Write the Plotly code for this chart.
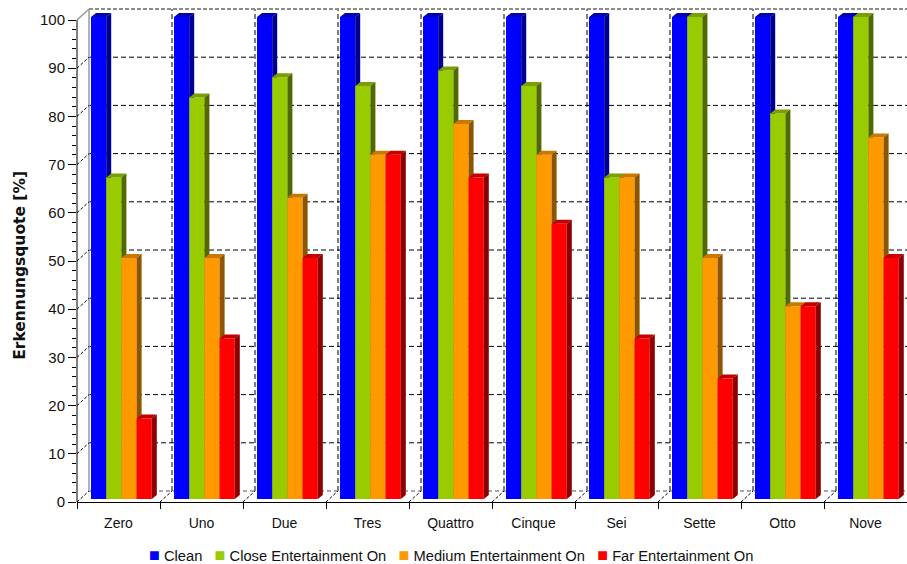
import plotly.graph_objects as go

# ---- data -------------------------------------------------------------
categories = ["Zero", "Uno", "Due", "Tres", "Quattro", "Cinque", "Sei", "Sette", "Otto", "Nove"]
series_names = ["Clean", "Close Entertainment On", "Medium Entertainment On", "Far Entertainment On"]
clean = [100, 100, 100, 100, 100, 100, 100, 100, 100, 100]
close_ent = [66.7, 83.3, 87.5, 85.7, 88.9, 85.7, 66.7, 100, 80, 100]
medium_ent = [50, 50, 62.5, 71.4, 77.8, 71.4, 66.7, 50, 40, 75]
far_ent = [16.7, 33.3, 50, 71.4, 66.7, 57.1, 33.3, 25, 40, 50]
y_ticks = list(range(0, 101, 10))

series_values = [clean, close_ent, medium_ent, far_ent]
# front, top cap, side face colours per series
front_cols = ["#0000FF", "#99CC00", "#FF9900", "#FF0000"]
cap_cols = ["#0000B0", "#7A9F00", "#C97800", "#C40000"]
side_cols = ["#000090", "#506A00", "#8E5500", "#8B0000"]

# ---- geometry (category units on x, value units on y) -----------------
W, H = 907, 564
ML, MR, MT, MB = 77, 0, 8, 62
YMAX = 102.49
PW, PH = W - ML - MR, H - MT - MB
px_x = PW / len(categories)                   # pixels per category
px_y = PH / YMAX                              # pixels per value unit

wall_dx, wall_dy = 12 / px_x, 11 / px_y       # back wall offset
bar_dy = 3 / px_y                             # bars sit slightly behind the front
bar_left = 14 / px_x
bar_w = 15.2 / px_x
depth_dx, depth_dy = 5 / px_x, 4 / px_y       # visible bar depth

fig = go.Figure()

n_series = len(series_values)
for j, vals in enumerate(series_values):
    xa = "x" if j == 0 else f"x{j + 1}"
    ya = "y" if j == 0 else f"y{j + 1}"
    xl = [i + bar_left + j * bar_w for i in range(len(categories))]
    fig.add_trace(go.Bar(
        x=[v + bar_w / 2 for v in xl], y=vals, base=bar_dy, width=bar_w,
        marker=dict(color=front_cols[j], line=dict(width=0)),
        name=series_names[j], showlegend=False, xaxis=xa, yaxis=ya,
        hoverinfo="skip"))
    cx, cy, sx, sy = [], [], [], []
    for x0, v in zip(xl, vals):
        x1 = x0 + bar_w
        top = v + bar_dy
        cx += [x0, x1, x1 + depth_dx, x0 + depth_dx, x0, None]
        cy += [top, top, top + depth_dy, top + depth_dy, top, None]
        sx += [x1, x1, x1 + depth_dx, x1 + depth_dx, x1, None]
        sy += [bar_dy, top, top + depth_dy, bar_dy + depth_dy, bar_dy, None]
    fig.add_trace(go.Scatter(x=cx, y=cy, mode="lines", fill="toself",
                             fillcolor=cap_cols[j], line=dict(width=0),
                             showlegend=False, hoverinfo="skip", xaxis=xa, yaxis=ya))
    fig.add_trace(go.Scatter(x=sx, y=sy, mode="lines", fill="toself",
                             fillcolor=side_cols[j], line=dict(width=0),
                             showlegend=False, hoverinfo="skip", xaxis=xa, yaxis=ya))

# ---- back wall, floor and connectors ----------------------------------
shapes = []
n = len(categories)
grid_line = dict(color="#000000", width=1, dash="5px,3px")
wall_line = dict(color="#8C8C8C", width=2, dash="4px,2px")
for v in y_ticks[1:-1]:
    shapes.append(dict(type="line", xref="x", yref="y", x0=wall_dx, x1=n,
                       y0=v + wall_dy, y1=v + wall_dy, layer="below", line=grid_line))
for i in range(1, n):
    shapes.append(dict(type="line", xref="x", yref="y", x0=i + wall_dx, x1=i + wall_dx,
                       y0=wall_dy, y1=100 + wall_dy, layer="below", line=grid_line))
# wall outline
shapes.append(dict(type="line", xref="x", yref="y", x0=wall_dx, x1=n,
                   y0=100 + wall_dy, y1=100 + wall_dy, layer="below", line=wall_line))
shapes.append(dict(type="line", xref="x", yref="y", x0=wall_dx, x1=n,
                   y0=wall_dy, y1=wall_dy, layer="below",
                   line=dict(color="#8C8C8C", width=1.5, dash="4px,3px")))
shapes.append(dict(type="line", xref="x", yref="y", x0=wall_dx, x1=wall_dx,
                   y0=wall_dy, y1=100 + wall_dy, layer="below",
                   line=dict(color="#9A9A9A", width=1.5)))
# connectors from the front axis to the wall
for v in y_ticks[:-1]:
    shapes.append(dict(type="line", xref="x", yref="y", x0=0, x1=wall_dx,
                       y0=v, y1=v + wall_dy, layer="below",
                       line=dict(color="#000000", width=1, dash="3px,2px")))
shapes.append(dict(type="line", xref="x", yref="y", x0=0, x1=wall_dx,
                   y0=100, y1=100 + wall_dy, layer="below",
                   line=dict(color="#9A9A9A", width=1.5)))
for i in range(1, n + 1):
    shapes.append(dict(type="line", xref="x", yref="y", x0=i, x1=i + wall_dx,
                       y0=0, y1=wall_dy, layer="below",
                       line=dict(color="#000000", width=1, dash="3px,2px")))
# front value axis
shapes.append(dict(type="line", xref="paper", yref="y", x0=0, x1=0, y0=0, y1=100,
                   line=dict(color="#000000", width=1)))

# ---- axes --------------------------------------------------------------
font_main = "Liberation Sans, Arial, sans-serif"
minor_vals = [v for v in range(2, 100, 2) if v % 10]
layout = dict(
    width=W, height=H,
    margin=dict(l=ML, r=MR, t=MT, b=MB, pad=0),
    plot_bgcolor="white", paper_bgcolor="white",
    barmode="overlay", showlegend=False,
    shapes=shapes,
    xaxis=dict(range=[0, n], tickmode="array",
               tickvals=[i + 0.5 for i in range(n)], ticktext=categories,
               ticks="outside", ticklen=8, tickcolor="rgba(0,0,0,0)",
               tickfont=dict(family=font_main, size=14, color="#111111"),
               showgrid=False, zeroline=False, showline=True,
               linecolor="#000000", linewidth=1,
               minor=dict(tickmode="array", tickvals=list(range(0, n + 1)),
                          ticks="outside", ticklen=6, tickcolor="#000000", showgrid=False)),
    yaxis=dict(range=[0, YMAX], tickmode="array", tickvals=y_ticks,
               ticktext=[str(v) for v in y_ticks],
               ticks="outside", ticklen=8, tickcolor="#000000",
               tickfont=dict(family=font_main, size=15, color="#111111"),
               showgrid=False, zeroline=False, showline=False,
               minor=dict(tickmode="array", tickvals=minor_vals, ticks="outside",
                          ticklen=4, tickcolor="#000000", showgrid=False)),
)
for j in range(1, n_series):
    layout[f"xaxis{j + 1}"] = dict(range=[0, n], overlaying="x", visible=False)
    layout[f"yaxis{j + 1}"] = dict(range=[0, YMAX], overlaying="y", visible=False)
fig.update_layout(**layout)

# ---- titles and legend -------------------------------------------------
fig.add_annotation(text="<b>Erkennungsquote [%]</b>", textangle=-90,
                   xref="paper", yref="y", x=(20 - ML) / PW, y=49,
                   xanchor="center", yanchor="middle", showarrow=False,
                   font=dict(family="DejaVu Sans, Verdana, sans-serif", size=15.5, color="#111111"))

gap = "\u00a0\u00a0\u00a0"
legend_parts = [f'<span style="color:{c};font-size:18px">■</span>\u00a0{name}'
                for c, name in zip(front_cols, series_names)]
fig.add_annotation(text=gap.join(legend_parts), xref="paper", yref="paper",
                   x=(451 - ML) / PW, y=-(555 - (H - MB)) / PH,
                   xanchor="center", yanchor="middle", showarrow=False,
                   font=dict(family=font_main, size=14.7, color="#111111"))

fig.write_html("out.html")
